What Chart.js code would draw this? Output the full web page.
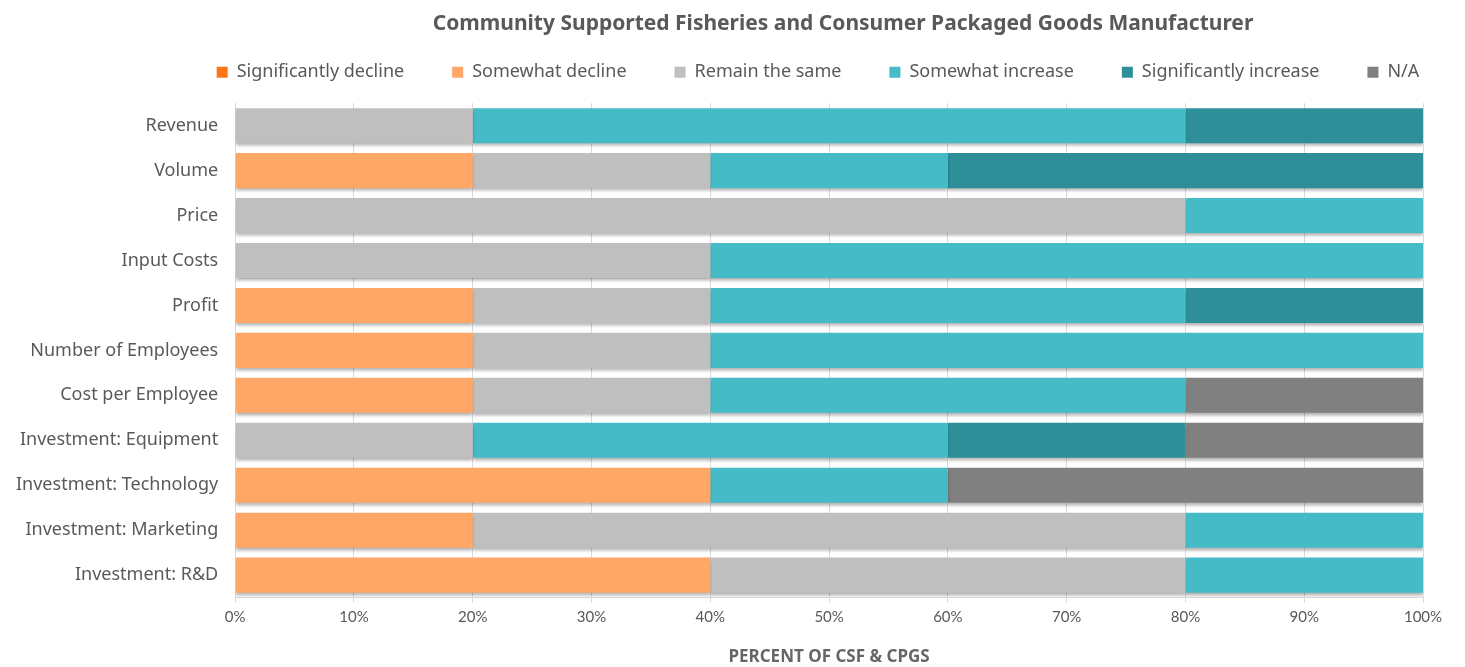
<!DOCTYPE html>
<html>
<head>
<meta charset="utf-8">
<script src="https://cdn.jsdelivr.net/npm/chart.js@4.4.1/dist/chart.umd.min.js"></script>
<style>
  body { margin: 0; background: #fff; }
  #wrap { width: 1465px; height: 667px; }
</style>
</head>
<body>
<div id="wrap"><canvas id="fisheries"></canvas></div>
<script>
// survey answers, percent of respondents per measure
const measures = ['Revenue', 'Volume', 'Price', 'Input Costs', 'Profit', 'Number of Employees',
    'Cost per Employee', 'Investment: Equipment', 'Investment: Technology',
    'Investment: Marketing', 'Investment: R&D'];

const sigDecline   = [0, 0, 0, 0, 0, 0, 0, 0, 0, 0, 0];
const someDecline  = [0, 20, 0, 0, 20, 20, 20, 0, 40, 20, 40];
const sameLevel    = [20, 20, 80, 40, 20, 20, 20, 20, 0, 60, 40];
const someIncrease = [60, 20, 20, 60, 40, 60, 40, 40, 20, 20, 20];
const sigIncrease  = [20, 40, 0, 0, 20, 0, 0, 20, 0, 0, 0];
const notApplic    = [0, 0, 0, 0, 0, 0, 20, 20, 40, 0, 0];

const xTicks = [0, 10, 20, 30, 40, 50, 60, 70, 80, 90, 100];

const textFont = '"Noto Sans", Lato, sans-serif';
const tickFont = 'Lato, "Noto Sans", sans-serif';

// soft drop shadow under the bars
const barShadow = {
    id: 'barShadow',
    beforeDatasetDraw(chart) {
        const ctx = chart.ctx;
        ctx.save();
        ctx.shadowColor = 'rgba(0, 0, 0, 0.3)';
        ctx.shadowOffsetX = 0;
        ctx.shadowOffsetY = 3;
        ctx.shadowBlur = 3;
    },
    afterDatasetDraw(chart) {
        chart.ctx.restore();
    }
};

// shift a box sideways when it draws
function nudge(box, dx)
{
    const draw = box.draw;
    box.draw = function () {
        const c = this.ctx;
        c.save();
        c.translate(dx, 0);
        draw.apply(this, arguments);
        c.restore();
    };
}

// wide gaps between legend items, but keep the legend block short;
// title and legend sit over the plot rather than the whole canvas
const headerLayout = {
    id: 'headerLayout',
    beforeInit(chart) {
        const fit = chart.legend.fit;
        chart.legend.fit = function () {
            fit.call(this);
            this.height = 88;
        };
        nudge(chart.legend, 103);
        nudge(chart.titleBlock, 128);
    }
};

function series(label, data, color)
{
    return {
        label: label,
        data: data,
        backgroundColor: color,
        borderWidth: 0,
        barPercentage: 0.78,
        categoryPercentage: 1.0
    };
}

const ctx = document.getElementById('fisheries').getContext('2d');

new Chart(ctx, {
    type: 'bar',
    data: {
        labels: measures,
        datasets: [
            series('Significantly decline', sigDecline, '#FF7417'),
            series('Somewhat decline', someDecline, '#FFA766'),
            series('Remain the same', sameLevel, '#BFBFBF'),
            series('Somewhat increase', someIncrease, '#45BBC7'),
            series('Significantly increase', sigIncrease, '#2E8F98'),
            series('N/A', notApplic, '#808080')
        ]
    },
    options: {
        indexAxis: 'y',
        responsive: true,
        maintainAspectRatio: false,
        animation: false,
        layout: { padding: { left: 7, right: 42, top: 8, bottom: 0 } },
        plugins: {
            title: {
                display: true,
                text: 'Community Supported Fisheries and Consumer Packaged Goods Manufacturer',
                color: '#595959',
                font: { family: textFont, size: 21, weight: 'bold' },
                padding: { top: 3, bottom: -21 }
            },
            legend: {
                display: true,
                position: 'top',
                labels: {
                    color: '#595959',
                    font: { family: textFont, size: 18 },
                    boxWidth: 11,
                    boxHeight: 11,
                    padding: 48
                }
            },
            tooltip: { enabled: false }
        },
        scales: {
            x: {
                stacked: true,
                min: 0,
                max: 100,
                afterBuildTicks: function (axis) {
                    axis.ticks = xTicks.map(v => ({ value: v }));
                },
                ticks: {
                    color: '#595959',
                    font: { family: tickFont, size: 15 },
                    padding: 6,
                    callback: v => v + '%'
                },
                grid: {
                    color: '#D9D9D9',
                    drawTicks: true,
                    tickLength: 5
                },
                border: { color: '#D9D9D9' },
                title: {
                    display: true,
                    text: 'PERCENT OF CSF & CPGS',
                    color: '#666666',
                    font: { family: textFont, size: 17, weight: 'bold' },
                    padding: { top: 14, bottom: 0 }
                }
            },
            y: {
                stacked: true,
                ticks: {
                    color: '#595959',
                    font: { family: textFont, size: 18 },
                    padding: 9
                },
                grid: { display: false },
                border: { color: '#D9D9D9' }
            }
        }
    },
    plugins: [barShadow, headerLayout]
});
</script>
</body>
</html>
